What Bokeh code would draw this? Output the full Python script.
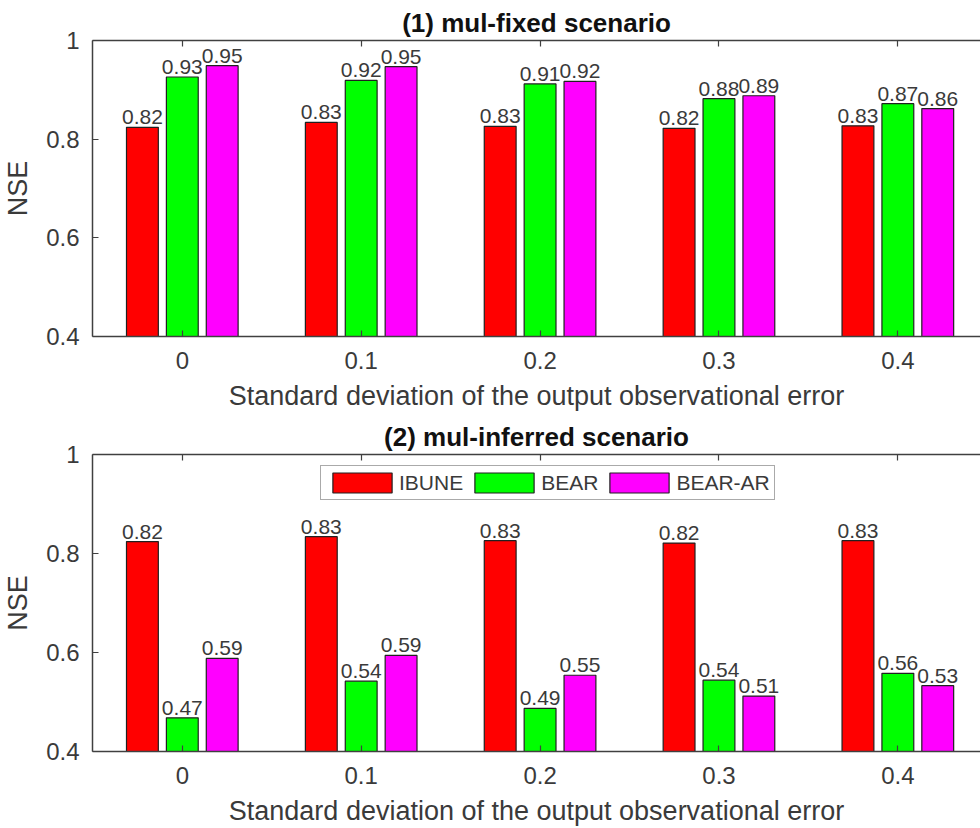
from bokeh.plotting import figure
from bokeh.models import (ColumnDataSource, Range1d, FixedTicker, LinearAxis,
                          CustomJSTickFormatter, CustomLabelingPolicy, Legend, LegendItem)
from bokeh.layouts import column
from bokeh.embed import file_html
from bokeh.resources import INLINE
from bokeh.core.properties import value

# ---------------- data ----------------
std_values = [0, 0.1, 0.2, 0.3, 0.4]
series_names = ["IBUNE", "BEAR", "BEAR-AR"]
series_colors = ["#FF0000", "#00FF00", "#FF00FF"]

fixed_ibune = [0.824, 0.834, 0.826, 0.822, 0.827]
fixed_bear = [0.926, 0.919, 0.912, 0.882, 0.872]
fixed_bear_ar = [0.949, 0.947, 0.917, 0.888, 0.862]

inferred_ibune = [0.824, 0.834, 0.826, 0.821, 0.826]
inferred_bear = [0.468, 0.542, 0.487, 0.544, 0.558]
inferred_bear_ar = [0.588, 0.594, 0.554, 0.512, 0.533]

y_ticks = [0.4, 0.6, 0.8, 1.0]
titles = ["(1) mul-fixed scenario", "(2) mul-inferred scenario"]
x_label = "Standard deviation of the output observational error"
y_label = "NSE"

FONT = "Liberation Sans"
AX_COL = "#404040"
TXT_COL = "#3a3a3a"

fmt = CustomJSTickFormatter(code="return String(Math.round(tick*10)/10)")


def make_panel(title, series, height, top_border, bottom_border, with_legend):
    p = figure(width=980, height=height, output_backend="svg", toolbar_location=None,
               x_range=Range1d(-0.0502, 0.4462), y_range=Range1d(0.4, 1.0),
               min_border_left=90, min_border_right=0,
               min_border_top=top_border, min_border_bottom=bottom_border,
               outline_line_color=None, background_fill_color="white",
               border_fill_color="white")
    p.grid.visible = False
    p.title.text = title
    p.title.align = "center"
    p.title.text_font = FONT
    p.title.text_font_size = "26px"
    p.title.text_font_style = "bold"
    p.title.text_color = "#111111"
    p.title.standoff = -3
    p.title.offset = 17

    offsets = [-0.0223, 0.0, 0.0223]
    renderers = []
    for vals, name, col, off in zip(series, series_names, series_colors, offsets):
        src = ColumnDataSource(dict(
            x=[s + off for s in std_values],
            top=vals,
            lab=[f"{v:.2f}" for v in vals],
        ))
        r = p.vbar(x="x", top="top", bottom=0.4, width=0.0178, source=src,
                   fill_color=col, line_color="#202020", line_width=1.2)
        renderers.append((name, r))
        p.text(x="x", y="top", text="lab", source=src, text_align="center",
               text_baseline="bottom", y_offset=-3, text_font=value(FONT),
               text_font_size="21px", text_color=TXT_COL)

    for ax in [p.xaxis[0], p.yaxis[0]]:
        ax.axis_line_color = AX_COL
        ax.axis_line_width = 1.5
        ax.major_tick_line_color = AX_COL
        ax.major_tick_line_width = 1.2
        ax.major_tick_in = 6
        ax.major_tick_out = 0
        ax.minor_tick_line_color = None
        ax.major_label_text_font = FONT
        ax.major_label_text_font_size = "24px"
        ax.major_label_text_color = TXT_COL
        ax.axis_label_text_font = FONT
        ax.axis_label_text_font_size = "27px"
        ax.axis_label_text_font_style = "normal"
        ax.axis_label_text_color = TXT_COL
        ax.formatter = fmt
    p.xaxis[0].ticker = FixedTicker(ticks=std_values)
    p.yaxis[0].ticker = FixedTicker(ticks=y_ticks)
    p.xaxis[0].axis_label = x_label
    p.yaxis[0].axis_label = y_label
    p.xaxis[0].major_label_standoff = 15
    p.xaxis[0].axis_label_standoff = 9
    p.yaxis[0].major_label_standoff = 13
    p.yaxis[0].axis_label_standoff = 10

    top_ax = LinearAxis(ticker=FixedTicker(ticks=std_values),
                        major_label_policy=CustomLabelingPolicy(code="return new Set()"),
                        major_label_standoff=0, major_label_text_font_size="1px",
                        axis_line_color=AX_COL, axis_line_width=1.5,
                        major_tick_line_color=AX_COL, major_tick_line_width=1.2,
                        major_tick_in=6, major_tick_out=0, minor_tick_line_color=None)
    p.add_layout(top_ax, "above")

    if with_legend:
        legend = Legend(items=[LegendItem(label=n, renderers=[r]) for n, r in renderers],
                        orientation="horizontal", location=(228, 251),
                        glyph_width=74, glyph_height=25, label_standoff=0,
                        spacing=4, padding=4, margin=0,
                        label_text_font=FONT, label_text_font_size="21px",
                        label_text_color=TXT_COL, border_line_color="#555555",
                        border_line_width=1.5, background_fill_alpha=1)
        p.add_layout(legend)
    return p


p1 = make_panel(titles[0], [fixed_ibune, fixed_bear, fixed_bear_ar], 414, 40, 78, False)
p2 = make_panel(titles[1], [inferred_ibune, inferred_bear, inferred_bear_ar], 414, 40, 76, True)

layout = column(p1, p2, spacing=0)
open("out.html", "w").write(file_html(layout, INLINE))
